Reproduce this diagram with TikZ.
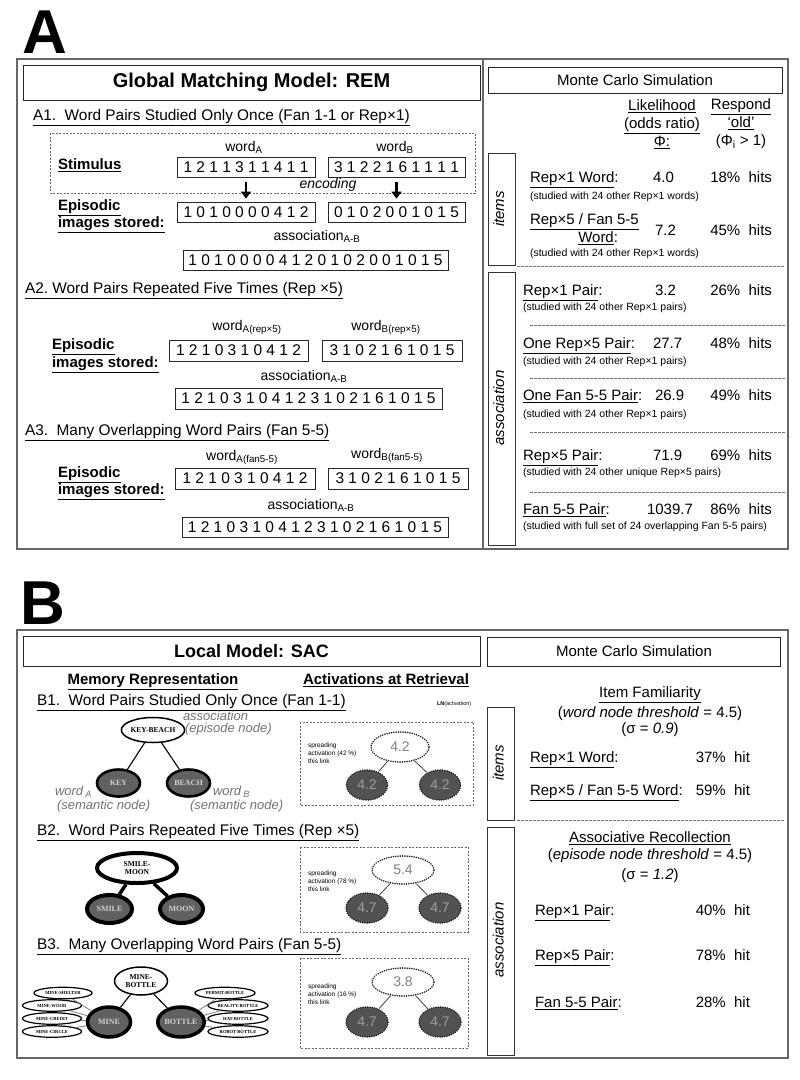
\documentclass[tikz,border=0pt]{standalone}
\usepackage{fontspec}
\setmainfont{Liberation Sans}
\newfontfamily\nodeserif{Liberation Serif}
\usetikzlibrary{shapes.geometric,arrows.meta}
\newcommand{\fsz}[1]{\fontsize{#1}{#1}\selectfont}
\begin{document}
\begin{tikzpicture}[x=1pt,y=-1pt,
  bs/.style={inner sep=0pt, outer sep=0pt},
  tl/.style={bs, anchor=mid west},
  tc/.style={bs, anchor=mid},
  tr/.style={bs, anchor=mid east},
  frame/.style={draw=black!60, line width=1.6pt},
  tbox/.style={draw=black!85, line width=0.9pt, inner sep=0pt},
  numbox/.style={draw=black!85, line width=0.9pt, minimum height=20pt, inner sep=0pt, font=\fsz{15.5}},
  head/.style={tl, font=\fsz{15.4}},
  blab/.style={tl, font=\bfseries\fsz{15}},
  wlab/.style={tc, font=\fsz{14}},
  mcf/.style={font=\fsz{15}},
  note/.style={tl, font=\fsz{10.5}},
  sepline/.style={dash pattern=on 2.5pt off 1.5pt, draw=black!55, line width=0.8pt},
  sidebox/.style={draw=black!80, line width=0.9pt, inner sep=0pt, minimum width=27pt},
  sidelab/.style={tc, rotate=90, font=\itshape\fsz{15}},
  bigarrow/.style={line width=2.6pt, -{Triangle[width=10pt,length=7pt]}, shorten <=5pt, shorten >=3pt},
  grp/.style={draw=black!60, dash pattern=on 2pt off 1.5pt, line width=0.9pt},
  epi/.style={ellipse, draw=black, fill=white, inner sep=0pt, align=center, font=\nodeserif\bfseries\fontsize{7.5}{8}\selectfont},
  sem/.style={ellipse, draw=black, fill=black!62, text=black!18, inner sep=0pt, font=\nodeserif\bfseries\fsz{8}},
  tinyel/.style={ellipse, draw=black, line width=1.2pt, fill=white, inner sep=0pt, minimum height=11.5pt, font=\nodeserif\bfseries\fsz{4.6}},
  dotline/.style={line cap=round, dash pattern=on 0.01pt off 2.3pt, line width=1.8pt},
  actop/.style={ellipse, draw=black!85, dotline, fill=white, inner sep=0pt, text=black!50, font=\fsz{14}},
  acdark/.style={actop, fill=black!68, text=black!38},
  gitalic/.style={bs, anchor=mid west, font=\itshape\fsz{13}, text=black!55},
  spread/.style={bs, anchor=north west, align=left, font=\fontsize{6.5}{7.8}\selectfont},
  thinl/.style={draw=black!75, line width=0.8pt},
]
\useasboundingbox (0,0) rectangle (800,1080);
\fill[white] (0,0) rectangle (800,1080);

% ================= PANEL A =================
\node[bs, font=\bfseries\fsz{62}] (LA) at (45,32) {A};
\draw[frame] (17,59) rectangle (788,549);
\draw[frame] (483,59) -- (483,549);
\node[tbox, minimum width=457pt, minimum height=35pt, font=\bfseries\fsz{20}] (gtitle) at (251.5,82.5) {Global Matching Model: REM};
\node[tbox, minimum width=294pt, minimum height=26pt, font=\fsz{15}] (mca) at (635,80) {Monte Carlo Simulation};

% A1
\node[head] (a1h) at (33,118) {\underline{A1.\ \ Word Pairs Studied Only Once (Fan 1-1 or Rep×1)}};
\draw[grp] (50,133) rectangle (475,193);
\node[wlab] (wa1) at (244,149) {word\textsubscript{A}};
\node[wlab] (wb1) at (395,149) {word\textsubscript{B}};
\node[blab] (stim) at (58,167) {\underline{Stimulus}};
\node[numbox, minimum width=138pt] (s1) at (246,167) {1 2 1 1 3 1 1 4 1 1};
\node[numbox, minimum width=137pt] (s2) at (396.5,167) {3 1 2 2 1 6 1 1 1 1};
\node[tc, font=\itshape\fsz{14}] (enc) at (328,186) {encoding};
\node[blab] (ep1a) at (58,208) {\underline{Episodic}};
\node[blab] (ep1b) at (58,225) {\underline{images stored:}};
\node[numbox, minimum width=138pt] (e1) at (246,212) {1 0 1 0 0 0 0 4 1 2};
\node[numbox, minimum width=137pt] (e2) at (396.5,212) {0 1 0 2 0 0 1 0 1 5};
\draw[bigarrow] (s1.south) -- (e1.north);
\draw[bigarrow] (s2.south) -- (e2.north);
\node[wlab] (as1) at (317,238) {association\textsubscript{A-B}};
\node[numbox, minimum width=265pt] (c1) at (315.5,260) {1 0 1 0 0 0 0 4 1 2 0 1 0 2 0 0 1 0 1 5};

% A2
\node[head] (a2h) at (25,291) {\underline{A2.\ Word Pairs Repeated Five Times (Rep ×5)}};
\node[wlab] (wa2) at (247,328) {word\textsubscript{A(rep×5)}};
\node[wlab] (wb2) at (386,328) {word\textsubscript{B(rep×5)}};
\node[blab] (ep2a) at (52,347) {\underline{Episodic}};
\node[blab] (ep2b) at (52,365) {\underline{images stored:}};
\node[numbox, minimum width=139pt, minimum height=21pt] (e3) at (238.5,350.5) {1 2 1 0 3 1 0 4 1 2};
\node[numbox, minimum width=140pt, minimum height=21pt] (e4) at (392,350.5) {3 1 0 2 1 6 1 0 1 5};
\node[wlab] (as2) at (304,378) {association\textsubscript{A-B}};
\node[numbox, minimum width=267pt, minimum height=21pt] (c2) at (308.5,398.5) {1 2 1 0 3 1 0 4 1 2 3 1 0 2 1 6 1 0 1 5};

% A3
\node[head] (a3h) at (25,433) {\underline{A3.\ \ Many Overlapping Word Pairs (Fan 5-5)}};
\node[wlab] (wa3) at (242,458) {word\textsubscript{A(fan5-5)}};
\node[wlab] (wb3) at (387,456) {word\textsubscript{B(fan5-5)}};
\node[blab] (ep3a) at (58,475) {\underline{Episodic}};
\node[blab] (ep3b) at (58,492) {\underline{images stored:}};
\node[numbox, minimum width=140pt, minimum height=21pt] (e5) at (245,478.5) {1 2 1 0 3 1 0 4 1 2};
\node[numbox, minimum width=140pt, minimum height=21pt] (e6) at (398,478.5) {3 1 0 2 1 6 1 0 1 5};
\node[wlab] (as3) at (311,507) {association\textsubscript{A-B}};
\node[numbox, minimum width=266pt] (c3) at (315,527) {1 2 1 0 3 1 0 4 1 2 3 1 0 2 1 6 1 0 1 5};

% A right panel
\node[bs, align=center, font=\fontsize{15}{18}\selectfont] (lik) at (662,124) {\underline{Likelihood}\\\underline{(odds ratio)}\\\underline{Φ:}};
\node[bs, align=center, font=\fontsize{15}{18}\selectfont] (resp) at (741,124) {\underline{Respond}\\\underline{‘old’}\\(Φ\textsubscript{i} > 1)};
\node[sidebox, minimum height=112pt] (ibA) at (501.5,209) {};
\node[sidelab] (ilA) at (501.5,209) {items};
\node[sidebox, minimum height=273pt] (abA) at (501.5,408.5) {};
\node[sidelab] (alA) at (501.5,408) {association};

\node[tl, mcf] (r1) at (530,180) {\underline{Rep×1 Word}:};
\node[tl, mcf] (v1) at (653,180) {4.0};
\node[tr, mcf] (h1) at (772,180) {18\%\ \ hits};
\node[note] (n1) at (530,197) {(studied with 24 other Rep×1 words)};
\node[tl, mcf] (r2) at (530,222) {\underline{Rep×5 / Fan 5-5}};
\node[tr, mcf] (r2b) at (618,240) {\underline{Word}:};
\node[tl, mcf] (v2) at (655,233) {7.2};
\node[tr, mcf] (h2) at (772,233) {45\%\ \ hits};
\node[note] (n2) at (530,254) {(studied with 24 other Rep×1 words)};
\draw[sepline] (517,266) -- (785,266);

\node[tl, mcf] (r3) at (523,293) {\underline{Rep×1 Pair}:};
\node[tl, mcf] (v3) at (655,293) {3.2};
\node[tr, mcf] (h3) at (772,293) {26\%\ \ hits};
\node[note] (n3) at (523,308) {(studied with 24 other Rep×1 pairs)};
\draw[sepline] (530,325) -- (785,325);

\node[tl, mcf] (r4) at (523,346) {\underline{One Rep×5 Pair}:};
\node[tl, mcf] (v4) at (653,346) {27.7};
\node[tr, mcf] (h4) at (772,346) {48\%\ \ hits};
\node[note] (n4) at (523,362) {(studied with 24 other Rep×1 pairs)};
\draw[sepline] (530,378) -- (785,378);

\node[tl, mcf] (r5) at (523,398) {\underline{One Fan 5-5 Pair}:};
\node[tl, mcf] (v5) at (655,398) {26.9};
\node[tr, mcf] (h5) at (772,398) {49\%\ \ hits};
\node[note] (n5) at (523,415) {(studied with 24 other Rep×1 pairs)};
\draw[sepline] (530,432) -- (785,432);

\node[tl, mcf] (r6) at (523,458) {\underline{Rep×5 Pair}:};
\node[tl, mcf] (v6) at (653,458) {71.9};
\node[tr, mcf] (h6) at (772,458) {69\%\ \ hits};
\node[note] (n6) at (523,473) {(studied with 24 other unique Rep×5 pairs)};
\draw[sepline] (530,492) -- (785,492);

\node[tl, mcf] (r7) at (523,512) {\underline{Fan 5-5 Pair}:};
\node[tl, mcf] (v7) at (647,512) {1039.7};
\node[tr, mcf] (h7) at (772,512) {86\%\ \ hits};
\node[note] (n7) at (523,527) {(studied with full set of 24 overlapping Fan 5-5 pairs)};

% ================= PANEL B =================
\node[bs, font=\bfseries\fsz{62}] (LB) at (43,603) {B};
\draw[frame] (17,630) rectangle (788,1058);
\node[tbox, minimum width=457pt, minimum height=30pt, font=\bfseries\fsz{18}] (ltitle) at (251.5,651) {Local Model: SAC};
\node[tbox, minimum width=293pt, minimum height=29pt, font=\fsz{15}] (mcb) at (634,651.5) {Monte Carlo Simulation};

\node[tc, font=\bfseries\fsz{15}] (memr) at (153,682) {\underline{Memory Representation}};
\node[tc, font=\bfseries\fsz{15}] (actr) at (386,682) {\underline{Activations at Retrieval}};

% B1
\node[head] (b1h) at (37,703) {\underline{B1.\ \ Word Pairs Studied Only Once (Fan 1-1)}};
\node[tl, font=\fsz{5.5}] (lnl) at (437,703) {\textbf{LN}(activation)};
\node[epi, line width=1.5pt, minimum width=60pt, minimum height=25pt] (kb) at (153,730) {KEY-BEACH};
\node[sem, line width=2.6pt, minimum width=43pt, minimum height=27pt] (key) at (118.5,783) {KEY};
\node[sem, line width=2.6pt, minimum width=43pt, minimum height=27pt] (beach) at (188.5,783) {BEACH};
\draw[line width=1.1pt] (kb) -- (key);
\draw[line width=1.1pt] (kb) -- (beach);
\node[gitalic] (gas) at (183,718) {association};
\node[gitalic] (gep) at (185,730) {(episode node)};
\node[gitalic] (gwa) at (55,793) {word\,\textsubscript{A}};
\node[gitalic] (gsa) at (57,807) {(semantic node)};
\node[gitalic] (gwb) at (213,793) {word\,\textsubscript{B}};
\node[gitalic] (gsb) at (190,807) {(semantic node)};

\draw[grp] (300,722) rectangle (473,805);
\node[actop, minimum width=58pt, minimum height=30pt] (t1) at (400,747) {4.2};
\node[acdark, minimum width=41pt, minimum height=30pt] (d1a) at (367,785) {4.2};
\node[acdark, minimum width=41pt, minimum height=30pt] (d1b) at (440,785) {4.2};
\draw[thinl] (t1) -- (d1a);
\draw[thinl] (t1) -- (d1b);
\node[spread] (sp1) at (308,743) {spreading\\activation (42 \%)\\this link};

% B2
\node[head] (b2h) at (37,833) {\underline{B2.\ \ Word Pairs Repeated Five Times (Rep ×5)}};
\node[epi, line width=4pt, minimum width=80pt, minimum height=30pt] (sm) at (137,868) {SMILE-\\MOON};
\node[sem, line width=4pt, minimum width=45pt, minimum height=28pt] (smile) at (109.5,909) {SMILE};
\node[sem, line width=4pt, minimum width=43pt, minimum height=28pt] (moon) at (181.5,909) {MOON};
\draw[line width=3.5pt] (sm) -- (smile);
\draw[line width=3.5pt] (sm) -- (moon);

\draw[grp] (300,847) rectangle (468,932);
\node[actop, minimum width=62pt, minimum height=28pt] (t2) at (403,870) {5.4};
\node[acdark, minimum width=42pt, minimum height=30pt] (d2a) at (367,908) {4.7};
\node[acdark, minimum width=42pt, minimum height=30pt] (d2b) at (440,908) {4.7};
\draw[thinl] (t2) -- (d2a);
\draw[thinl] (t2) -- (d2b);
\node[spread] (sp2) at (308,871) {spreading\\activation (78 \%)\\this link};

% B3
\node[head] (b3h) at (37,947) {\underline{B3.\ \ Many Overlapping Word Pairs (Fan 5-5)}};
\node[epi, line width=1.5pt, minimum width=53pt, minimum height=28pt] (mb) at (141,981) {MINE-\\BOTTLE};
\node[sem, line width=3.5pt, minimum width=43pt, minimum height=30pt] (mine) at (109,1022) {MINE};
\node[sem, line width=3.5pt, minimum width=43pt, minimum height=30pt] (bottle) at (181,1022) {BOTTLE};
\draw[line width=1.1pt] (mb) -- (mine);
\draw[line width=1.1pt] (mb) -- (bottle);
\node[tinyel, minimum width=58pt] (ms) at (63,993) {MINE-SHELTER};
\node[tinyel, minimum width=59pt] (mw) at (52,1005.5) {MINE-WOOD};
\node[tinyel, minimum width=59pt] (mcr) at (52,1018.5) {MINE-CREDIT};
\node[tinyel, minimum width=59pt] (mci) at (52,1031.5) {MINE-CIRCLE};
\node[tinyel, minimum width=60pt] (pb) at (225,993) {PERMIT-BOTTLE};
\node[tinyel, minimum width=60pt] (rb) at (238,1005.5) {REALITY-BOTTLE};
\node[tinyel, minimum width=60pt] (hb) at (238,1018.5) {HAT-BOTTLE};
\node[tinyel, minimum width=60pt] (rob) at (238,1031.5) {ROBOT-BOTTLE};
\foreach \n in {ms,mw,mcr,mci} \draw[thinl, draw=black!50] (\n) -- (mine);
\foreach \n in {pb,rb,hb,rob} \draw[thinl, draw=black!50] (\n) -- (bottle);

\draw[grp] (300,958) rectangle (468,1048);
\node[actop, minimum width=62pt, minimum height=28pt] (t3) at (403,982) {3.8};
\node[acdark, minimum width=42pt, minimum height=30pt] (d3a) at (367,1022) {4.7};
\node[acdark, minimum width=42pt, minimum height=30pt] (d3b) at (440,1022) {4.7};
\draw[thinl] (t3) -- (d3a);
\draw[thinl] (t3) -- (d3b);
\node[spread] (sp3) at (308,984) {spreading\\activation (16 \%)\\this link};

% B right panel
\node[sidebox, minimum height=113pt] (ibB) at (501,763.5) {};
\node[sidelab] (ilB) at (501,763) {items};
\node[sidebox, minimum height=228pt] (abB) at (501,941) {};
\node[sidelab] (alB) at (501,940) {association};

\node[tc, mcf] (ifam) at (650,695) {\underline{Item Familiarity}};
\node[tc, mcf] (ithr) at (650,715) {(\textit{word node threshold} = 4.5)};
\node[tc, mcf] (isig) at (650,731) {(σ = \textit{0.9})};
\node[tl, mcf] (q1) at (530,760) {\underline{Rep×1 Word}:};
\node[tr, mcf] (q1h) at (750,760) {37\%\ \ hit};
\node[tl, mcf] (q2) at (530,793) {\underline{Rep×5 / Fan 5-5 Word}:};
\node[tr, mcf] (q2h) at (750,793) {59\%\ \ hit};
\draw[sepline] (517,820) -- (785,820);

\node[tc, mcf] (arec) at (650,840) {\underline{Associative Recollection}};
\node[tc, mcf] (athr) at (650,857) {(\textit{episode node threshold} = 4.5)};
\node[tc, mcf] (asig) at (650,877) {(σ = \textit{1.2})};
\node[tl, mcf] (p1) at (535,913) {\underline{Rep×1 Pair}:};
\node[tr, mcf] (p1h) at (750,913) {40\%\ \ hit};
\node[tl, mcf] (p2) at (535,958) {\underline{Rep×5 Pair}:};
\node[tr, mcf] (p2h) at (750,958) {78\%\ \ hit};
\node[tl, mcf] (p3) at (535,1005) {\underline{Fan 5-5 Pair}:};
\node[tr, mcf] (p3h) at (750,1005) {28\%\ \ hit};
\end{tikzpicture}
\end{document}
